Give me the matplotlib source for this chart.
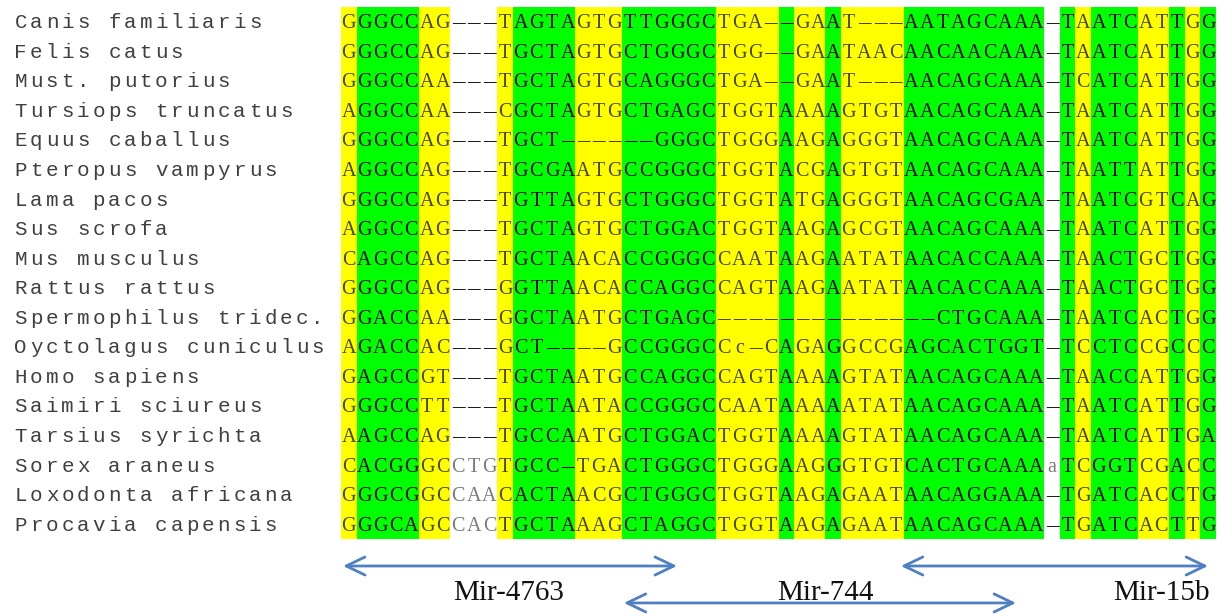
import matplotlib
matplotlib.use("Agg")
import matplotlib.pyplot as plt

# ---------------- data ----------------
species = [
    "Canis familiaris", "Felis catus", "Must. putorius", "Tursiops truncatus",
    "Equus caballus", "Pteropus vampyrus", "Lama pacos", "Sus scrofa",
    "Mus musculus", "Rattus rattus", "Spermophilus tridec.", "Oyctolagus cuniculus",
    "Homo sapiens", "Saimiri sciureus", "Tarsius syrichta", "Sorex araneus",
    "Loxodonta africana", "Procavia capensis",
]
sequences = [
    "GGGCCAG---TAGTAGTGTTGGGCTGA--GAAT---AATAGCAAA-TAATCATTGG",
    "GGGCCAG---TGCTAGTGCTGGGCTGG--GAATAACAACAACAAA-TAATCATTGG",
    "GGGCCAA---TGCTAGTGCAGGGCTGA--GAAT---AACAGCAAA-TCATCATTGG",
    "AGGCCAA---CGCTAGTGCTGAGCTGGTAAAAGTGTAACAGCAAA-TAATCATTGG",
    "GGGCCAG---TGCT------GGGCTGGGAAGAGGGTAACAGCAAA-TAATCATTGG",
    "AGGCCAG---TGCGAATGCCGGGCTGGTACGAGTGTAACAGCAAA-TAATTATTGG",
    "GGGCCAG---TGTTAGTGCTGGGCTGGTATGAGGGTAACAGCGAA-TAATCGTCAG",
    "AGGCCAG---TGCTAGTGCTGGACTGGTAAGAGCGTAACAGCAAA-TAATCATTGG",
    "CAGCCAG---TGCTAACACCGGGCCAATAAGAATATAACACCAAA-TAACTGCTGG",
    "GGGCCAG---GGTTAACACCAGGCCAGTAAGAATATAACACCAAA-TAACTGCTGG",
    "GGACCAA---GGCTAATGCTGAGC--------------CTGCAAA-TAATCACTGG",
    "AGACCAC---GCT----GCCGGGCCc-CAGAGGCCGAGCACTGGT-TCCTCCGCCC",
    "GAGCCGT---TGCTAATGCCAGGCCAGTAAAAGTATAACAGCAAA-TAACCATTGG",
    "GGGCCTT---TGCTAATACCGGGCCAATAAAAATATAACAGCAAA-TAATCATTGG",
    "AAGCCAG---TGCCAATGCTGGACTGGTAAAAGTATAACAGCAAA-TAATCATTGA",
    "CACGGGCCTGTGCC-TGACTGGGCTGGGAAGGGTGTCACTGCAAAaTCGGTCGACC",
    "GGGCGGCCAACACTAACGCTGGGCTGGTAAGAGAATAACAGGAAA-TGATCACCTG",
    "GGGCAGCCACTGCTAAAGCTAGGCTGGTAAGAGAATAACAGCAAA-TGATCACTTG",
]
# column shading class: Y = yellow, G = green, W = none
column_class = "YGGGGYYWWWYGGGGYYYGGGGGGYYYYGYYGYYYYGGGGGGGGGWGYGGGYYGYG"

mir_names = ["Mir-4763", "Mir-744", "Mir-15b"]
mir_start = [0.13, 18.1, 35.83]   # alignment column units
mir_end = [21.5, 43.2, 55.49]
mir_level = [0, 1, 0]             # 0 = upper arrow row, 1 = lower arrow row
mir_label_x = [10.7, 31.0, 52.5]

# ---------------- styling ----------------
W_PX, H_PX = 1226, 616
PITCH_X = 15.625       # px per character
X0 = 12.9              # px of first name character
PITCH_Y = 29.56        # px per row
Y0 = 21.5              # px of first row centre
SEQ_OFFSET = 21        # characters before first alignment column

fill = {"Y": "#ffff00", "G": "#00ff00", "W": "none"}
txt_col = {"Y": "#4a4600", "G": "#0a0a0a", "W": "#7a7a7a"}
gap_col = {"Y": "#4a4600", "G": "#0a0a0a", "W": "#1a1a1a"}

fig = plt.figure(figsize=(W_PX / 100, H_PX / 100), dpi=100)
ax = fig.add_axes([0, 0, 1, 1])
ax.set_xlim(-X0 / PITCH_X, (W_PX - X0) / PITCH_X)
ax.set_ylim((H_PX - Y0) / PITCH_Y, -Y0 / PITCH_Y)
ax.axis("off")

n_rows = len(sequences)
n_cols = len(column_class)

# shading columns
xs = [SEQ_OFFSET + j + 0.5 for j in range(n_cols)]
colors = [fill[c] for c in column_class]
ax.bar(xs, [n_rows] * n_cols, bottom=-0.5, width=1.0, color=colors,
       edgecolor="none", linewidth=0, zorder=1)

FS = 14.5
BASE = 0.225  # baseline offset (rows)
seq_font = dict(family="Liberation Serif", fontsize=FS, ha="center", va="baseline", zorder=3)
name_font = dict(family="Liberation Mono", fontsize=15.0, ha="center", va="baseline", zorder=3)

# species names
for r, name in enumerate(species):
    for k, ch in enumerate(name):
        if ch == " ":
            continue
        ax.text(k + 0.5, r + BASE, ch, color="#404040", **name_font)

# sequences
for r, seq in enumerate(sequences):
    for j, ch in enumerate(seq):
        cls = column_class[j]
        col = gap_col[cls] if ch == "-" else txt_col[cls]
        if ch == "-":
            ax.text(SEQ_OFFSET + j + 0.5, r + BASE, "\u2013", color=col,
                    family="Liberation Serif", fontsize=FS * 1.25, ha="center",
                    va="baseline", zorder=3)
        else:
            ax.text(SEQ_OFFSET + j + 0.5, r + BASE, ch, color=col, **seq_font)

# miRNA arrows and labels
arrow_y = [18.42, 19.67]
for name, s, e, lv, lx in zip(mir_names, mir_start, mir_end, mir_level, mir_label_x):
    y = arrow_y[lv]
    ax.annotate("", xy=(SEQ_OFFSET + e, y), xytext=(SEQ_OFFSET + s, y),
                arrowprops=dict(arrowstyle="<->,head_length=1.35,head_width=0.65",
                                color="#4f80c2", lw=2.0, shrinkA=0, shrinkB=0),
                zorder=4)
    ax.text(SEQ_OFFSET + lx, 19.33, name, family="Liberation Serif", fontsize=21,
            ha="center", va="center", color="#111111", zorder=5)

fig.savefig("out.png", dpi=100)
